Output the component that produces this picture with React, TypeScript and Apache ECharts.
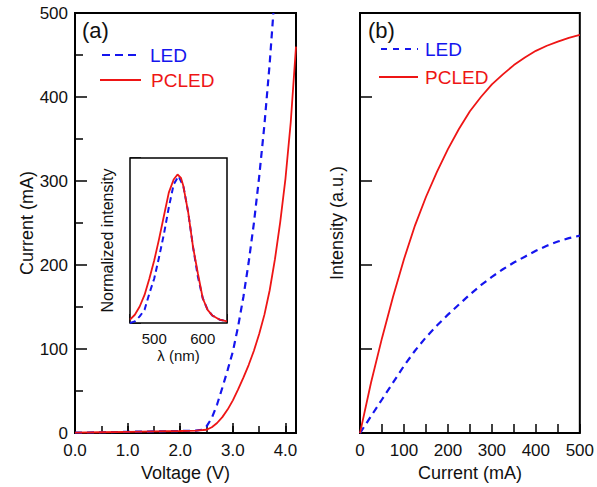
import React, { useEffect, useRef } from 'react';
import * as echarts from 'echarts';

// Panel (a): I-V curves
const voltageLED = [0, 0.5, 1.0, 1.5, 2.0, 2.3, 2.4, 2.5, 2.6, 2.7, 2.8, 2.9, 3.0, 3.1, 3.2, 3.3, 3.4, 3.5, 3.6, 3.7, 3.77];
const currentLED = [0.5, 1, 1.5, 2, 2.5, 3, 4, 8, 18, 34, 54, 75, 97, 127, 162, 203, 250, 305, 367, 440, 500];
const voltagePCLED = [0, 0.5, 1.0, 1.5, 2.0, 2.3, 2.5, 2.6, 2.7, 2.8, 2.9, 3.0, 3.1, 3.2, 3.3, 3.4, 3.5, 3.6, 3.7, 3.8, 3.9, 4.0, 4.1, 4.2];
const currentPCLED = [0.5, 1, 1.5, 2, 2.5, 3, 4, 7, 12, 19, 28, 39, 52, 66, 81, 98, 118, 141, 170, 207, 251, 303, 370, 460];

// Panel (b): intensity vs current
const currentB = [0, 25, 50, 75, 100, 125, 150, 175, 200, 225, 250, 275, 300, 325, 350, 375, 400, 425, 450, 475, 500];
const intensityLED = [0, 0.2, 0.4, 0.6, 0.8, 0.98, 1.14, 1.28, 1.41, 1.53, 1.65, 1.76, 1.86, 1.95, 2.03, 2.1, 2.17, 2.23, 2.28, 2.32, 2.35];
const intensityPCLED = [0, 0.6, 1.13, 1.62, 2.07, 2.47, 2.81, 3.11, 3.38, 3.62, 3.83, 4.0, 4.15, 4.27, 4.38, 4.47, 4.55, 4.61, 4.66, 4.705, 4.74];

// Inset: normalized spectra
const lambdaLED = [450, 460, 470, 480, 490, 500, 510, 520, 530, 540, 550, 560, 570, 580, 590, 600, 610, 620, 635, 650];
const spectrumLED = [0.0, 0.01, 0.04, 0.08, 0.18, 0.27, 0.4, 0.54, 0.7, 0.84, 0.89, 0.83, 0.67, 0.46, 0.28, 0.15, 0.08, 0.045, 0.02, 0.01];
const lambdaPCLED = [450, 460, 470, 480, 490, 500, 510, 520, 530, 540, 548, 555, 560, 570, 580, 590, 600, 610, 620, 635, 650];
const spectrumPCLED = [0.02, 0.05, 0.1, 0.17, 0.27, 0.38, 0.51, 0.65, 0.79, 0.87, 0.9, 0.88, 0.83, 0.67, 0.46, 0.3, 0.15, 0.08, 0.045, 0.02, 0.01];

const seriesNames = ['LED', 'PCLED'];
const panelLabels = ['(a)', '(b)'];

const BLUE = '#1515ee';
const RED = '#ee1515';
const FONT = 'Liberation Sans, Arial, Helvetica, sans-serif';

const pairs = (xs: number[], ys: number[]) => xs.map((x, i) => [x, ys[i]]);

export default function App() {
  const ref = useRef<HTMLDivElement>(null);
  useEffect(() => {
    if (!ref.current) return;
    const chart = echarts.init(ref.current, undefined, { renderer: 'svg' });
    const tickLabel = { color: '#111', fontSize: 17, fontFamily: FONT };
    const nameStyle = { color: '#111', fontSize: 18, fontFamily: FONT };
    const gridBase = { show: true, borderColor: '#000', borderWidth: 2, backgroundColor: '#fff' };
    const blueLine = { color: BLUE, width: 2.2, type: [7, 5] as any };
    const redLine = { color: RED, width: 1.8 };
    const lineSeries = (name: string, xi: number, yi: number, data: number[][], ls: any, z = 2) => ({
      type: 'line', name, xAxisIndex: xi, yAxisIndex: yi, data, showSymbol: false, symbol: 'none',
      smooth: false, lineStyle: ls, itemStyle: { color: ls.color }, z,
    });
    const option: any = {
      animation: false,
      backgroundColor: '#fff',
      grid: [
        { ...gridBase, left: 75, width: 221, top: 13, height: 421 },
        { ...gridBase, left: 360, width: 221, top: 13, height: 421 },
        { ...gridBase, left: 130, width: 97, top: 158, height: 165, borderWidth: 1.5, z: 5 },
      ],
      xAxis: [
        {
          type: 'value', gridIndex: 0, min: 0, max: 4.2, interval: 0.5,
          axisLine: { show: false }, splitLine: { show: false },
          axisTick: { inside: true, length: 7, lineStyle: { color: '#000', width: 1.5 } },
          axisLabel: { ...tickLabel, margin: 9, showMaxLabel: false,
            formatter: (v: number) => (Math.abs(v - Math.round(v)) < 1e-6 ? v.toFixed(1) : '') },
          name: 'Voltage (V)', nameLocation: 'middle', nameGap: 27, nameTextStyle: nameStyle,
        },
        {
          type: 'value', gridIndex: 0, min: 0, max: 4.2, interval: 1, position: 'bottom',
          axisLine: { show: false }, splitLine: { show: false }, axisLabel: { show: false },
          axisTick: { inside: true, length: 10, lineStyle: { color: '#000', width: 1.5 } },
        },
        {
          type: 'value', gridIndex: 1, min: 0, max: 500, interval: 50,
          axisLine: { show: false }, splitLine: { show: false },
          axisTick: { inside: true, length: 9, lineStyle: { color: '#000', width: 1.5 } },
          axisLabel: { ...tickLabel, margin: 9, formatter: (v: number) => (v % 100 === 0 ? String(v) : '') },
          name: 'Current (mA)', nameLocation: 'middle', nameGap: 27, nameTextStyle: nameStyle,
        },
        {
          type: 'value', gridIndex: 2, min: 450, max: 650, interval: 50,
          axisLine: { show: false }, splitLine: { show: false },
          axisTick: { inside: true, length: 9, lineStyle: { color: '#000', width: 1.5 } },
          axisLabel: { color: '#111', fontSize: 15, fontFamily: FONT, margin: 8,
            formatter: (v: number) => (v === 500 || v === 600 ? String(v) : '') },
          name: 'λ (nm)', nameLocation: 'middle', nameGap: 25,
          nameTextStyle: { color: '#111', fontSize: 15, fontFamily: FONT },
        },
      ],
      yAxis: [
        {
          type: 'value', gridIndex: 0, min: 0, max: 500, interval: 100,
          axisLine: { show: false }, splitLine: { show: false },
          axisTick: { inside: true, length: 12, lineStyle: { color: '#000', width: 1.5 } },
          minorTick: { show: true, splitNumber: 2, length: 8, lineStyle: { color: '#000', width: 1.5 } },
          axisLabel: { ...tickLabel, margin: 7 },
          name: 'Current (mA)', nameLocation: 'middle', nameGap: 38, nameTextStyle: nameStyle,
        },
        {
          type: 'value', gridIndex: 1, min: 0, max: 5, interval: 1,
          axisLine: { show: false }, splitLine: { show: false },
          axisTick: { inside: true, length: 12, lineStyle: { color: '#000', width: 1.5 } },
          axisLabel: { show: false },
          name: 'Intensity (a.u.)', nameLocation: 'middle', nameGap: 14, nameTextStyle: nameStyle,
        },
        {
          type: 'value', gridIndex: 2, min: 0, max: 1, interval: 0.5,
          axisLine: { show: false }, splitLine: { show: false },
          axisTick: { inside: true, length: 11, lineStyle: { color: '#000', width: 1.5 } },
          axisLabel: { show: false },
          name: 'Normalized intensity', nameLocation: 'middle', nameGap: 15,
          nameTextStyle: { color: '#111', fontSize: 16, fontFamily: FONT },
        },
      ],
      series: [
        lineSeries(seriesNames[0], 0, 0, pairs(voltageLED, currentLED), blueLine),
        lineSeries(seriesNames[1], 0, 0, pairs(voltagePCLED, currentPCLED), redLine, 3),
        lineSeries(seriesNames[0], 2, 1, pairs(currentB, intensityLED), blueLine),
        lineSeries(seriesNames[1], 2, 1, pairs(currentB, intensityPCLED), redLine, 3),
        lineSeries(seriesNames[0], 3, 2, pairs(lambdaLED, spectrumLED), { ...blueLine, width: 2, type: [6, 4] }, 6),
        lineSeries(seriesNames[1], 3, 2, pairs(lambdaPCLED, spectrumPCLED), redLine, 7),
      ],
      graphic: [
        { type: 'text', left: 82, top: 19, style: { text: panelLabels[0], fontSize: 22, fontFamily: FONT, fill: '#111' } },
        { type: 'text', left: 368, top: 19, style: { text: panelLabels[1], fontSize: 22, fontFamily: FONT, fill: '#111' } },
        { type: 'line', shape: { x1: 102, y1: 55, x2: 141, y2: 55 }, style: { stroke: BLUE, lineWidth: 2.2, lineDash: [8, 5] } },
        { type: 'text', x: 150, y: 55, style: { text: seriesNames[0], fontSize: 19, fontFamily: FONT, fill: BLUE, verticalAlign: 'middle' } },
        { type: 'line', shape: { x1: 100, y1: 80, x2: 141, y2: 80 }, style: { stroke: RED, lineWidth: 1.8 } },
        { type: 'text', x: 151, y: 80, style: { text: seriesNames[1], fontSize: 19, fontFamily: FONT, fill: RED, verticalAlign: 'middle' } },
        { type: 'line', shape: { x1: 381, y1: 49, x2: 418, y2: 49 }, style: { stroke: BLUE, lineWidth: 2, lineDash: [6, 6] } },
        { type: 'text', x: 425, y: 49, style: { text: seriesNames[0], fontSize: 19, fontFamily: FONT, fill: BLUE, verticalAlign: 'middle' } },
        { type: 'line', shape: { x1: 379, y1: 77, x2: 418, y2: 77 }, style: { stroke: RED, lineWidth: 1.8 } },
        { type: 'text', x: 425, y: 77, style: { text: seriesNames[1], fontSize: 19, fontFamily: FONT, fill: RED, verticalAlign: 'middle' } },
      ],
    };
    chart.setOption(option);
    return () => chart.dispose();
  }, []);
  return <div ref={ref} style={{ position: 'fixed', left: 0, top: 0, width: 597, height: 487, background: '#fff' }} />;
}
